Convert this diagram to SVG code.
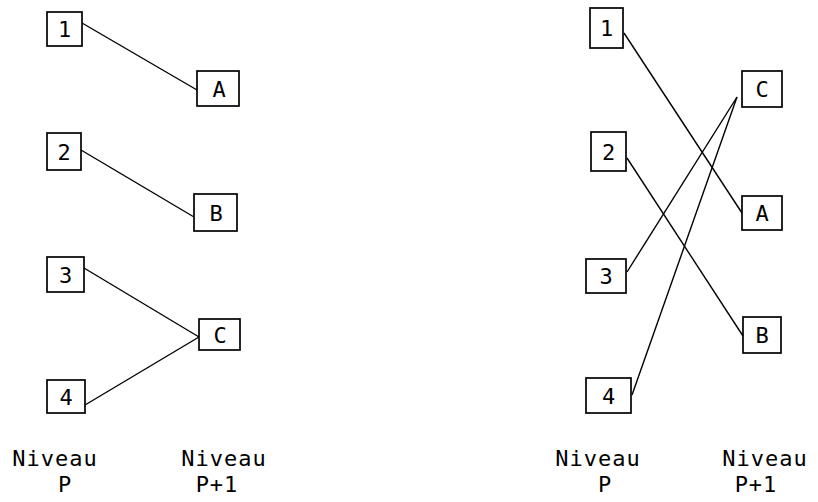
<svg xmlns="http://www.w3.org/2000/svg" width="818" height="502" viewBox="0 0 818 502">
<style>
.box{fill:none;stroke:#000;stroke-width:1.7}
.lbl{font-family:"DejaVu Sans Mono","Liberation Mono",monospace;font-size:22px;fill:#000;text-anchor:middle}
.lev{font-family:"DejaVu Sans Mono","Liberation Mono",monospace;font-size:22px;letter-spacing:1px;fill:#000;text-anchor:middle}
.con line{stroke:#000;stroke-width:1.4}
</style>
<rect width="818" height="502" fill="#fff"/>
<g id="connectors" class="con">
<line x1="82" y1="23" x2="197" y2="90"/>
<line x1="81" y1="150" x2="194" y2="217"/>
<line x1="84" y1="268" x2="199" y2="337"/>
<line x1="85" y1="405" x2="199" y2="337"/>
<line x1="624" y1="33" x2="742" y2="213"/>
<line x1="627" y1="158" x2="743" y2="336"/>
<line x1="737" y1="97" x2="627" y2="272"/>
<line x1="737" y1="97" x2="632" y2="395"/>
</g>
<g id="L1"><rect class="box" x="47" y="12" width="35" height="34"/><text class="lbl" x="64.5" y="37">1</text></g>
<g id="LA"><rect class="box" x="197" y="71" width="42" height="35"/><text class="lbl" x="219" y="97">A</text></g>
<g id="L2"><rect class="box" x="47" y="133" width="34" height="37"/><text class="lbl" x="64" y="160">2</text></g>
<g id="LB"><rect class="box" x="194" y="194" width="43" height="37"/><text class="lbl" x="216" y="221">B</text></g>
<g id="L3"><rect class="box" x="47" y="257" width="37" height="35"/><text class="lbl" x="65.5" y="283">3</text></g>
<g id="LC"><rect class="box" x="199" y="319" width="41" height="31"/><text class="lbl" x="220" y="343">C</text></g>
<g id="L4"><rect class="box" x="47" y="380" width="38" height="33"/><text class="lbl" x="66" y="405">4</text></g>
<g id="R1"><rect class="box" x="590" y="8" width="33" height="40"/><text class="lbl" x="606.5" y="36">1</text></g>
<g id="RC"><rect class="box" x="742" y="71" width="40" height="36"/><text class="lbl" x="762" y="97">C</text></g>
<g id="R2"><rect class="box" x="591" y="132" width="35" height="39"/><text class="lbl" x="608.5" y="160">2</text></g>
<g id="RA"><rect class="box" x="742" y="196" width="40" height="34"/><text class="lbl" x="762" y="221">A</text></g>
<g id="R3"><rect class="box" x="586" y="259" width="40" height="34"/><text class="lbl" x="606" y="284">3</text></g>
<g id="RB"><rect class="box" x="743" y="317" width="38" height="36"/><text class="lbl" x="762" y="343">B</text></g>
<g id="R4"><rect class="box" x="586" y="378" width="45" height="35"/><text class="lbl" x="608.5" y="404">4</text></g>
<g id="labels">
<text class="lev" x="55" y="466">Niveau</text>
<text class="lev" x="65" y="492">P</text>
<text class="lev" x="224" y="466">Niveau</text>
<text class="lev" x="217" y="492">P+1</text>
<text class="lev" x="598" y="466">Niveau</text>
<text class="lev" x="605" y="492">P</text>
<text class="lev" x="765" y="466">Niveau</text>
<text class="lev" x="756" y="492">P+1</text>
</g>
</svg>
